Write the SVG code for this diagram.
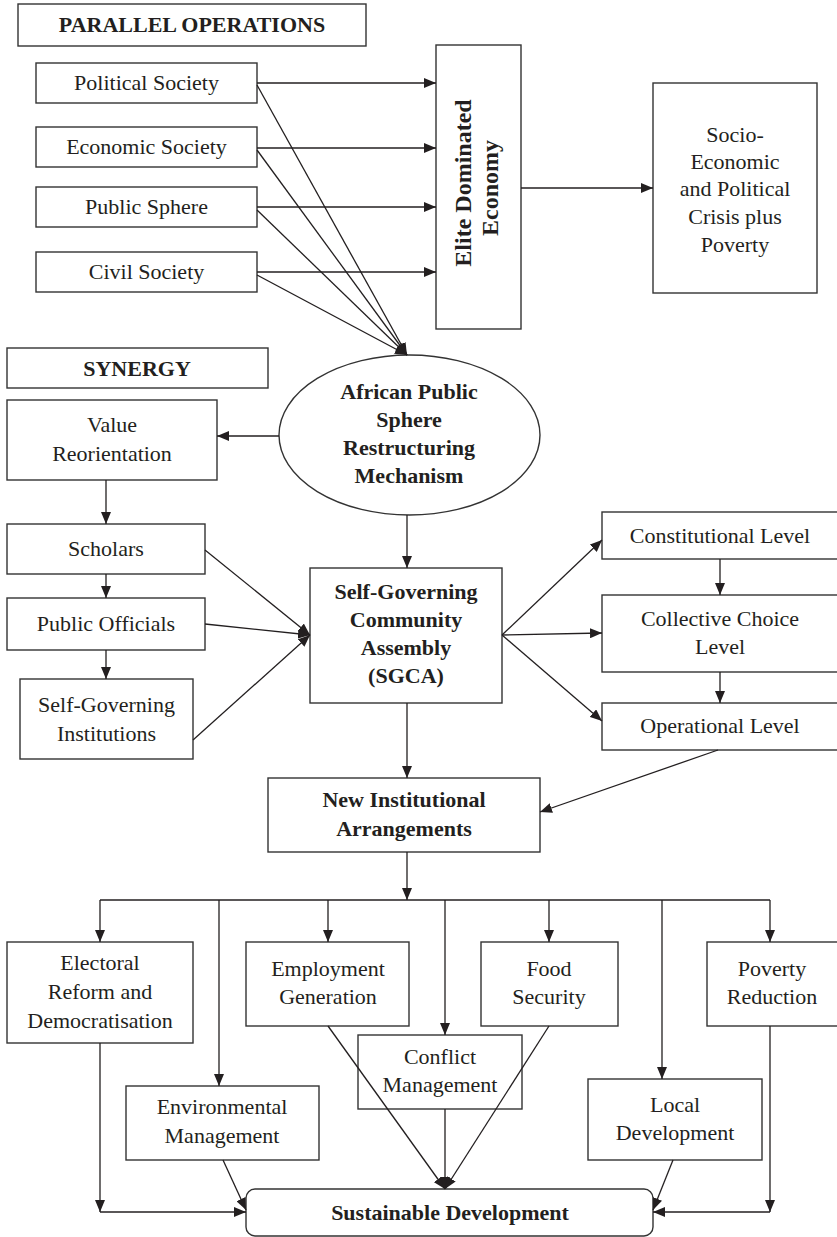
<svg xmlns="http://www.w3.org/2000/svg" width="837" height="1237" viewBox="0 0 837 1237">
<defs>
<marker id="ah" markerUnits="userSpaceOnUse" markerWidth="12" markerHeight="10" refX="12" refY="5" orient="auto">
<path d="M0,0 L12,5 L0,10 z" fill="#231f20"/>
</marker>
<style>
rect, ellipse { fill: #fff; stroke: #333; stroke-width: 1.4; }
text { font-family: "Liberation Serif", "Times New Roman", serif; font-size: 22px; fill: #231f20; text-anchor: middle; }
.b { font-weight: bold; }
#connectors line, #connectors path { stroke: #231f20; stroke-width: 1.3; fill: none; }
.a { marker-end: url(#ah); }
</style>
</defs>
<rect x="0" y="0" width="837" height="1237" style="fill:#fff;stroke:none"/>

<g id="parallel-operations"><rect x="18" y="4" width="348" height="42"/><text class="b" x="192" y="32">PARALLEL OPERATIONS</text></g>
<g id="political-society"><rect x="36" y="63" width="221" height="40"/><text x="146.5" y="90">Political Society</text></g>
<g id="economic-society"><rect x="36" y="127" width="221" height="40"/><text x="146.5" y="154">Economic Society</text></g>
<g id="public-sphere"><rect x="36" y="187" width="221" height="40"/><text x="146.5" y="214">Public Sphere</text></g>
<g id="civil-society"><rect x="36" y="252" width="221" height="40"/><text x="146.5" y="279">Civil Society</text></g>

<g id="elite-economy"><rect x="436" y="45" width="85" height="284"/>
<text class="b" style="font-size:24px" transform="translate(471,183) rotate(-90)">Elite Dominated</text>
<text class="b" style="font-size:24px" transform="translate(498,188) rotate(-90)">Economy</text></g>

<g id="crisis"><rect x="653" y="83" width="164" height="210"/>
<text x="735" y="142">Socio-</text>
<text x="735" y="169">Economic</text>
<text x="735" y="196">and Political</text>
<text x="735" y="224">Crisis plus</text>
<text x="735" y="252">Poverty</text></g>

<g id="synergy"><rect x="7" y="348" width="261" height="40"/><text class="b" x="137" y="376">SYNERGY</text></g>

<g id="restructuring"><ellipse cx="409.5" cy="435" rx="130.5" ry="80"/>
<text class="b" x="409" y="399">African Public</text>
<text class="b" x="409" y="427">Sphere</text>
<text class="b" x="409" y="455">Restructuring</text>
<text class="b" x="409" y="483">Mechanism</text></g>

<g id="value-reorientation"><rect x="7" y="400" width="210" height="80"/><text x="112" y="432">Value</text><text x="112" y="461">Reorientation</text></g>
<g id="scholars"><rect x="7" y="524" width="198" height="50"/><text x="106" y="556">Scholars</text></g>
<g id="public-officials"><rect x="7" y="598" width="198" height="52"/><text x="106" y="631">Public Officials</text></g>
<g id="self-governing-institutions"><rect x="20" y="679" width="173" height="80"/><text x="106.5" y="712">Self-Governing</text><text x="106.5" y="741">Institutions</text></g>

<g id="sgca"><rect x="310" y="568" width="192" height="135"/>
<text class="b" x="406" y="599">Self-Governing</text>
<text class="b" x="406" y="627">Community</text>
<text class="b" x="406" y="655">Assembly</text>
<text class="b" x="406" y="683">(SGCA)</text></g>

<g id="constitutional-level"><rect x="602" y="512" width="240" height="47"/><text x="720" y="543">Constitutional Level</text></g>
<g id="collective-choice-level"><rect x="602" y="595" width="240" height="77"/><text x="720" y="626">Collective Choice</text><text x="720" y="654">Level</text></g>
<g id="operational-level"><rect x="602" y="703" width="240" height="47"/><text x="720" y="733">Operational Level</text></g>

<g id="new-institutional-arrangements"><rect x="268" y="778" width="272" height="74"/>
<text class="b" x="404" y="807">New Institutional</text>
<text class="b" x="404" y="836">Arrangements</text></g>

<g id="electoral-reform"><rect x="7" y="942" width="186" height="101"/><text x="100" y="970">Electoral</text><text x="100" y="999">Reform and</text><text x="100" y="1028">Democratisation</text></g>
<g id="employment-generation"><rect x="246" y="942" width="163" height="84"/><text x="328" y="976">Employment</text><text x="328" y="1004">Generation</text></g>
<g id="food-security"><rect x="481" y="942" width="137" height="84"/><text x="549" y="976">Food</text><text x="549" y="1004">Security</text></g>
<g id="poverty-reduction"><rect x="707" y="942" width="135" height="84"/><text x="772" y="976">Poverty</text><text x="772" y="1004">Reduction</text></g>
<g id="conflict-management"><rect x="358" y="1035" width="164" height="74"/><text x="440" y="1064">Conflict</text><text x="440" y="1092">Management</text></g>
<g id="environmental-management"><rect x="126" y="1086" width="193" height="74"/><text x="222" y="1114">Environmental</text><text x="222" y="1143">Management</text></g>
<g id="local-development"><rect x="588" y="1079" width="174" height="81"/><text x="675" y="1112">Local</text><text x="675" y="1140">Development</text></g>

<g id="sustainable-development"><rect x="246" y="1189" width="407" height="47" rx="9" ry="9"/><text class="b" x="450" y="1220">Sustainable Development</text></g>

<g id="connectors">
<line class="a" x1="257" y1="83" x2="436" y2="83"/>
<line class="a" x1="257" y1="148" x2="436" y2="148"/>
<line class="a" x1="257" y1="207" x2="436" y2="207"/>
<line class="a" x1="257" y1="272" x2="436" y2="272"/>
<line class="a" x1="257" y1="85" x2="407" y2="355"/>
<line class="a" x1="257" y1="150" x2="407" y2="355"/>
<line class="a" x1="257" y1="210" x2="407" y2="355"/>
<line class="a" x1="257" y1="275" x2="407" y2="355"/>
<line class="a" x1="521" y1="188" x2="653" y2="188"/>
<line class="a" x1="279" y1="436" x2="217" y2="436"/>
<line class="a" x1="407" y1="515" x2="407" y2="568"/>
<line class="a" x1="106" y1="480" x2="106" y2="524"/>
<line class="a" x1="106" y1="574" x2="106" y2="598"/>
<line class="a" x1="106" y1="650" x2="106" y2="679"/>
<line class="a" x1="205" y1="550" x2="310" y2="635"/>
<line class="a" x1="205" y1="624" x2="310" y2="635"/>
<line class="a" x1="193" y1="740" x2="310" y2="635"/>
<line class="a" x1="502" y1="635" x2="602" y2="540"/>
<line class="a" x1="502" y1="635" x2="602" y2="633"/>
<line class="a" x1="502" y1="635" x2="602" y2="721"/>
<line class="a" x1="720" y1="559" x2="720" y2="595"/>
<line class="a" x1="720" y1="672" x2="720" y2="703"/>
<line class="a" x1="718" y1="750" x2="540" y2="812"/>
<line class="a" x1="407" y1="703" x2="407" y2="778"/>
<line class="a" x1="407" y1="852" x2="407" y2="900"/>
<line x1="100" y1="900" x2="770" y2="900"/>
<line class="a" x1="100" y1="900" x2="100" y2="942"/>
<line class="a" x1="219" y1="900" x2="219" y2="1086"/>
<line class="a" x1="328" y1="900" x2="328" y2="942"/>
<line class="a" x1="445" y1="900" x2="445" y2="1035"/>
<line class="a" x1="549" y1="900" x2="549" y2="942"/>
<line class="a" x1="662" y1="900" x2="662" y2="1079"/>
<line class="a" x1="770" y1="900" x2="770" y2="942"/>
<line class="a" x1="100" y1="1043" x2="100" y2="1212"/>
<line class="a" x1="100" y1="1212" x2="246" y2="1212"/>
<line class="a" x1="223" y1="1160" x2="246" y2="1210"/>
<line class="a" x1="328" y1="1026" x2="445" y2="1189"/>
<line class="a" x1="445" y1="1109" x2="445" y2="1189"/>
<line class="a" x1="549" y1="1026" x2="445" y2="1189"/>
<line class="a" x1="673" y1="1160" x2="653" y2="1210"/>
<line class="a" x1="770" y1="1026" x2="770" y2="1212"/>
<line class="a" x1="770" y1="1212" x2="653" y2="1212"/>
</g>
</svg>
